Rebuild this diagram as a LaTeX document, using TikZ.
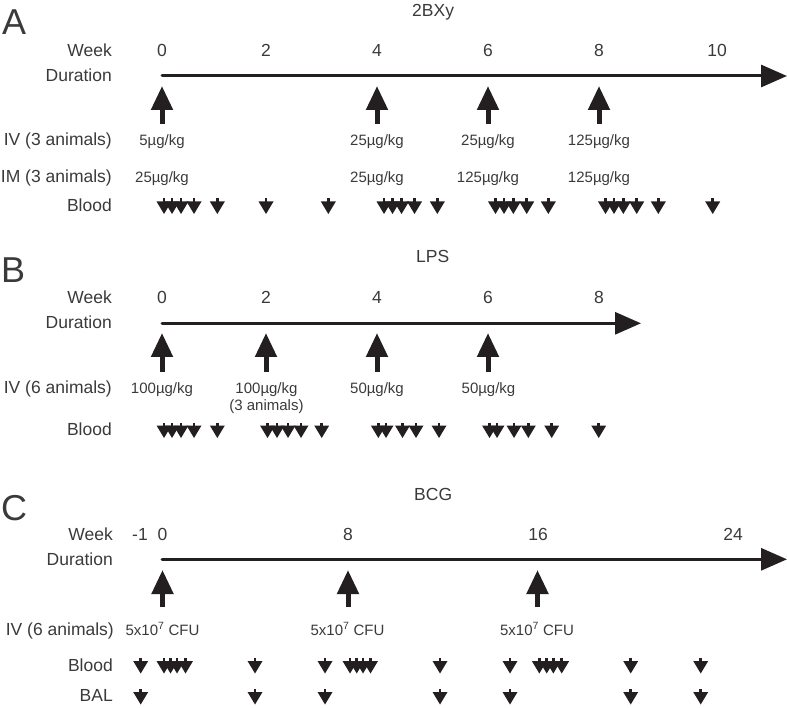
\documentclass[tikz,border=0pt]{standalone}
\usepackage{fontspec}
\setmainfont{Liberation Sans}
\usetikzlibrary{arrows.meta}
\definecolor{ink}{HTML}{231F20}
\definecolor{txt}{HTML}{3A3A3A}
\tikzset{
 lbl/.style={anchor=base east, inner sep=0pt, text=txt, font=\fontsize{17.5}{20}\selectfont},
 wk/.style={anchor=base, inner sep=0pt, text=txt, font=\fontsize{17.5}{20}\selectfont},
 dose/.style={anchor=base, inner sep=0pt, text=txt, font=\fontsize{15}{17}\selectfont},
 panel/.style={anchor=base west, inner sep=0pt, text=txt, font=\fontsize{36}{40}\selectfont},
 ttl/.style={anchor=base west, inner sep=0pt, text=txt, font=\fontsize{17.5}{20}\selectfont},
 timeline/.style={draw=ink, line width=3pt, line cap=round, -{Triangle[length=26pt,width=22pt]}},
 dosearrow/.style={draw=ink, line width=5pt, -{Triangle[length=24pt,width=21pt]}},
 bmark/.pic={\fill[ink] (-1.3,-7.5) rectangle (1.3,-4); \fill[ink] (-7.5,-4.5) -- (7.5,-4.5) -- (0,8) -- cycle;}
}
\begin{document}
\begin{tikzpicture}[x=1pt,y=-1pt]
\useasboundingbox (0,0) rectangle (787,708);
% ---------- Panel A ----------
\node[panel] (pA) at (2,35) {A};
\node[ttl] (tA) at (412,17) {2BXy};
\node[lbl] (wkA) at (112,57) {Week};
\node[lbl] (duA) at (112,82) {Duration};
\node[lbl] (ivA) at (112,146) {IV (3 animals)};
\node[lbl] (imA) at (112,183) {IM (3 animals)};
\node[lbl] (blA) at (112,212) {Blood};
\foreach \x/\t/\n in {162/0/0,266/2/2,377/4/4,488/6/6,599/8/8,717/10/10}
  \node[wk] (wA\n) at (\x,57) {\t};
\coordinate (lsA) at (162,76); \coordinate (leA) at (787,76);
\draw[timeline] (lsA) -- (leA);
\foreach \x in {162,377,488,599}
  \draw[dosearrow] (\x,124) -- (\x,86);
\node[dose] (ivA0) at (162,146) {5µg/kg};
\node[dose] (ivA4) at (377,146) {25µg/kg};
\node[dose] (ivA6) at (488,146) {25µg/kg};
\node[dose] (ivA8) at (599,146) {125µg/kg};
\node[dose] (imA0) at (162,183) {25µg/kg};
\node[dose] (imA4) at (377,183) {25µg/kg};
\node[dose] (imA6) at (488,183) {125µg/kg};
\node[dose] (imA8) at (599,183) {125µg/kg};
\foreach \x in {164,172,181,194,217.3,266,328.3,384,392.5,401.5,414.5,437.3,495.5,504,513.3,526.7,548.3,605.5,614,623.3,636.7,658.3,712.7}
  \pic at (\x,206) {bmark};
% ---------- Panel B ----------
\node[panel] (pB) at (1,283) {B};
\node[ttl] (tB) at (416,263) {LPS};
\node[lbl] (wkB) at (112,304) {Week};
\node[lbl] (duB) at (112,329) {Duration};
\node[lbl] (ivB) at (112,393) {IV (6 animals)};
\node[lbl] (blB) at (112,435) {Blood};
\foreach \x/\t in {162/0,266/2,377/4,488/6,599/8}
  \node[wk] (wB\t) at (\x,304) {\t};
\coordinate (lsB) at (162,323.3); \coordinate (leB) at (641,323.3);
\draw[timeline] (lsB) -- (leB);
\foreach \x in {162,266,377,488}
  \draw[dosearrow] (\x,371.7) -- (\x,333);
\node[dose] (ivB0) at (162,393) {100µg/kg};
\node[dose] (ivB2) at (266.5,393) {100µg/kg};
\node[dose] (ivB2b) at (266.5,410) {(3 animals)};
\node[dose] (ivB4) at (377,393) {50µg/kg};
\node[dose] (ivB6) at (488.5,393) {50µg/kg};
\foreach \x in {164,172,181,194,217.3,267.5,277,288,301,321.7,378.3,386,402.5,416,439,489.5,497,514,528.3,551.7,598.7}
  \pic at (\x,430) {bmark};
% ---------- Panel C ----------
\node[panel] (pC) at (1,520) {C};
\node[ttl] (tC) at (414,500) {BCG};
\node[lbl] (wkC) at (113,540) {Week};
\node[lbl] (duC) at (113,565) {Duration};
\node[lbl] (ivC) at (114,635) {IV (6 animals)};
\node[lbl] (blC) at (113,671) {Blood};
\node[lbl] (baC) at (113,701.7) {BAL};
\node[wk] (wCm1) at (140,540) {-1};
\foreach \x/\t in {162.5/0,348/8,538/16,733/24}
  \node[wk] (wC\t) at (\x,540) {\t};
\coordinate (lsC) at (162,559.3); \coordinate (leC) at (787,559.3);
\draw[timeline] (lsC) -- (leC);
\foreach \x in {162.5,348,537.5}
  \draw[dosearrow] (\x,607) -- (\x,570);
\node[dose] (ivC0) at (162.5,635) {5x10\textsuperscript{7} CFU};
\node[dose] (ivC8) at (347.5,635) {5x10\textsuperscript{7} CFU};
\node[dose] (ivC16) at (537,635) {5x10\textsuperscript{7} CFU};
\foreach \x in {140.7,164,170.5,177,185.5,255,325,350,356.7,363,370.5,440,510,539.3,546.7,553.3,561.7,630.7,700.7}
  \pic at (\x,665.5) {bmark};
\foreach \x in {140.7,255,325,440,510,630.7,700.7}
  \pic at (\x,696.5) {bmark};
\end{tikzpicture}
\end{document}
